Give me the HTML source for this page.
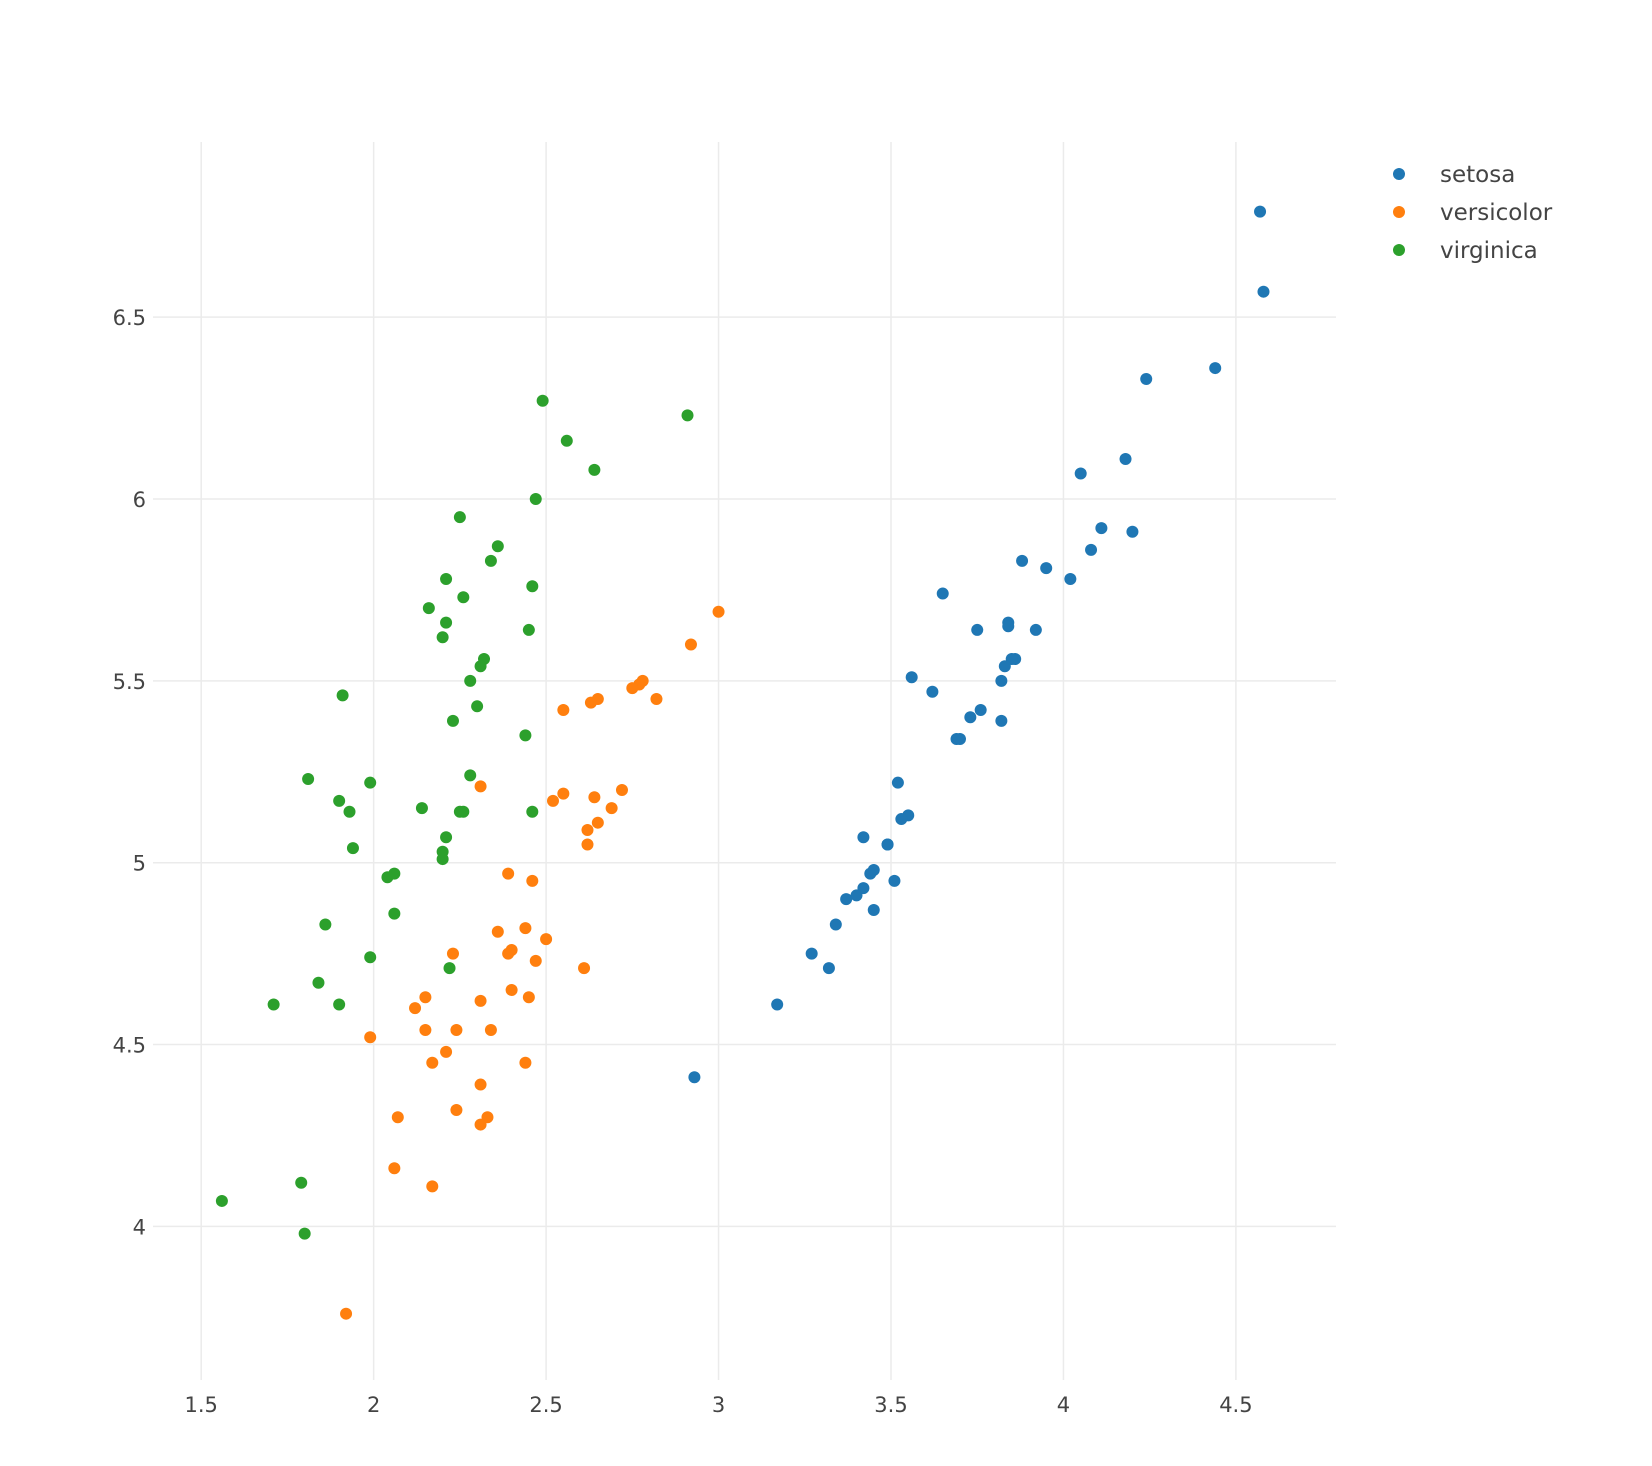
<!DOCTYPE html>
<html><head><meta charset="utf-8"><style>
html,body{margin:0;padding:0;background:#fff;}
svg{display:block;font-family:"DejaVu Sans","Liberation Sans",sans-serif;}
</style></head><body>
<svg id="chart" width="1652" height="1466">
<g id="grid"></g>
<g id="xticks"></g>
<g id="yticks"></g>
<g id="points"></g>
<g id="legend"></g>
</svg>
<script>
const xTicks = [1.5, 2, 2.5, 3, 3.5, 4, 4.5];
const xTickLabels = ["1.5","2","2.5","3","3.5","4","4.5"];
const yTicks = [4, 4.5, 5, 5.5, 6, 6.5];
const yTickLabels = ["4","4.5","5","5.5","6","6.5"];
const seriesNames = ["setosa","versicolor","virginica"];
const seriesColors = ["#1f77b4","#ff7f0e","#2ca02c"];
const setosaX = [4.57,4.58,4.24,4.44,4.18,4.05,4.11,4.20,4.08,3.88,3.95,4.02,3.65,3.84,3.84,3.92,3.75,3.86,3.85,3.83,3.82,3.56,3.62,3.76,3.73,3.82,3.70,3.69,3.52,3.55,3.53,3.42,3.49,3.49,3.45,3.44,3.51,3.42,3.40,3.37,3.45,3.34,3.27,3.32,3.17,2.93];
const setosaY = [6.79,6.57,6.33,6.36,6.11,6.07,5.92,5.91,5.86,5.83,5.81,5.78,5.74,5.66,5.65,5.64,5.64,5.56,5.56,5.54,5.50,5.51,5.47,5.42,5.40,5.39,5.34,5.34,5.22,5.13,5.12,5.07,5.05,5.05,4.98,4.97,4.95,4.93,4.91,4.90,4.87,4.83,4.75,4.71,4.61,4.41];
const versicolorX = [3.00,2.92,2.78,2.77,2.75,2.82,2.65,2.63,2.55,2.31,2.72,2.55,2.64,2.52,2.69,2.65,2.62,2.62,2.39,2.46,2.44,2.36,2.50,2.40,2.39,2.23,2.47,2.61,2.40,2.45,2.31,2.15,2.12,2.15,2.24,2.34,1.99,2.21,2.17,2.44,2.31,2.07,2.24,2.33,2.31,2.06,2.17,1.92];
const versicolorY = [5.69,5.60,5.50,5.49,5.48,5.45,5.45,5.44,5.42,5.21,5.20,5.19,5.18,5.17,5.15,5.11,5.09,5.05,4.97,4.95,4.82,4.81,4.79,4.76,4.75,4.75,4.73,4.71,4.65,4.63,4.62,4.63,4.60,4.54,4.54,4.54,4.52,4.48,4.45,4.45,4.39,4.30,4.32,4.30,4.28,4.16,4.11,3.76];
const virginicaX = [2.49,2.91,2.56,2.64,2.47,2.25,2.36,2.34,2.46,2.21,2.26,2.16,2.21,2.45,2.20,2.32,2.31,2.28,1.91,2.30,2.23,2.44,2.28,1.81,1.99,1.90,1.93,2.14,2.46,2.26,2.25,2.21,1.94,2.20,2.20,2.06,2.04,2.06,1.86,1.99,2.22,1.84,1.71,1.90,1.79,1.56,1.80];
const virginicaY = [6.27,6.23,6.16,6.08,6.00,5.95,5.87,5.83,5.76,5.78,5.73,5.70,5.66,5.64,5.62,5.56,5.54,5.50,5.46,5.43,5.39,5.35,5.24,5.23,5.22,5.17,5.14,5.15,5.14,5.14,5.14,5.07,5.04,5.03,5.01,4.97,4.96,4.86,4.83,4.74,4.71,4.67,4.61,4.61,4.12,4.07,3.98];

const NS = "http://www.w3.org/2000/svg";
const L = 153, R = 1336, T = 142, B = 1380;
function xScale(v){ return 201.2 + (v - 1.5) * 344.9; }
function yScale(v){ return 1226.4 - (v - 4) * 363.7; }
function mk(tag, attrs, parent){ const e = document.createElementNS(NS, tag); for (const k in attrs) e.setAttribute(k, attrs[k]); parent.appendChild(e); return e; }

const grid = document.getElementById('grid');
const xt = document.getElementById('xticks');
const yt = document.getElementById('yticks');
xTicks.forEach((v, i) => {
  const ln = mk('line', {x1: xScale(v), x2: xScale(v), y1: T, y2: B, stroke: '#ebebeb', 'stroke-width': 1.5}, grid);
  
  
  const t = mk('text', {x: xScale(v), y: 1412, 'text-anchor': 'middle', 'font-size': 21, fill: '#444'}, xt);
  t.textContent = xTickLabels[i];
  
  
});
yTicks.forEach((v, i) => {
  const ln = mk('line', {x1: L, x2: R, y1: yScale(v), y2: yScale(v), stroke: '#ebebeb', 'stroke-width': 1.5}, grid);
  
  
  const t = mk('text', {x: 146, y: yScale(v) + 8, 'text-anchor': 'end', 'font-size': 21, fill: '#444'}, yt);
  t.textContent = yTickLabels[i];
  
  
});

const pts = document.getElementById('points');
const allX = [setosaX, versicolorX, virginicaX];
const allY = [setosaY, versicolorY, virginicaY];
allX.forEach((xs, s) => {
  const g = mk('g', {}, pts);
  
  
  xs.forEach((xv, i) => {
    const c = mk('circle', {cx: xScale(xv), cy: yScale(allY[s][i]), r: 6, fill: seriesColors[s]}, g);
    
    
  });
});

const leg = document.getElementById('legend');
seriesNames.forEach((n, i) => {
  const g = mk('g', {}, leg);
  
  
  const y = 174 + i * 38;
  mk('circle', {cx: 1399, cy: y, r: 6, fill: seriesColors[i]}, g);
  const t = mk('text', {x: 1440, y: y + 8, 'font-size': 23, fill: '#444'}, g);
  t.textContent = n;
});
</script>
</body></html>
